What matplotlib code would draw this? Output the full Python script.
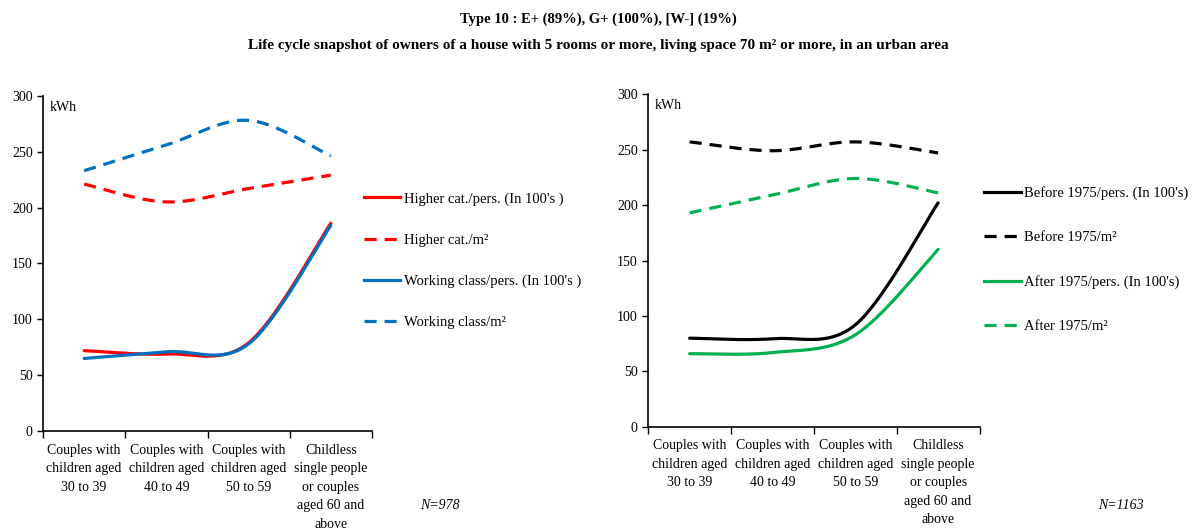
import numpy as np
import matplotlib
matplotlib.use("Agg")
import matplotlib.pyplot as plt
from matplotlib.lines import Line2D

plt.rcParams['font.family'] = ['Liberation Serif', 'DejaVu Serif']

categories = ["Couples with\nchildren aged\n30 to 39",
              "Couples with\nchildren aged\n40 to 49",
              "Couples with\nchildren aged\n50 to 59",
              "Childless\nsingle people\nor couples\naged 60 and\nabove"]

# Left panel
higher_pers = [72, 69, 79, 186]
higher_m2 = [221, 205, 217, 229]
working_pers = [65, 71, 78, 184]
working_m2 = [233, 256, 278, 246]

# Right panel
before_pers = [80, 79.5, 92, 202]
before_m2 = [257, 249, 257, 247]
after_pers = [66, 67, 83, 160]
after_m2 = [193, 209, 224, 211]

yticks = [0, 50, 100, 150, 200, 250, 300]

RED = "#FF0000"
BLUE = "#0070C0"
BLACK = "#000000"
GREEN = "#00B050"


def smooth(xs, ys, n=60):
    xs = np.asarray(xs, float)
    ys = np.asarray(ys, float)
    px = np.concatenate([[xs[0]], xs, [xs[-1]]])
    py = np.concatenate([[ys[0]], ys, [ys[-1]]])
    outx, outy = [], []
    t = np.linspace(0, 1, n)
    for i in range(1, len(xs)):
        p0 = np.array([px[i], py[i]])
        p3 = np.array([px[i + 1], py[i + 1]])
        c1 = p0 + (np.array([px[i + 1], py[i + 1]]) - np.array([px[i - 1], py[i - 1]])) / 6
        c2 = p3 - (np.array([px[i + 2], py[i + 2]]) - np.array([px[i], py[i]])) / 6
        bx = (1 - t) ** 3 * p0[0] + 3 * (1 - t) ** 2 * t * c1[0] + 3 * (1 - t) * t ** 2 * c2[0] + t ** 3 * p3[0]
        by = (1 - t) ** 3 * p0[1] + 3 * (1 - t) ** 2 * t * c1[1] + 3 * (1 - t) * t ** 2 * c2[1] + t ** 3 * p3[1]
        outx.extend(bx)
        outy.extend(by)
    return np.array(outx), np.array(outy)


fig = plt.figure(figsize=(11.96, 5.29), dpi=100)

fig.text(0.5, 0.964, "Type 10 : E+ (89%), G+ (100%), [W-] (19%)", ha="center", va="center",
         fontsize=10.5, fontweight="bold")
fig.text(0.5, 0.914, "Life cycle snapshot of owners of a house with 5 rooms or more, living space 70 m² or more, in an urban area",
         ha="center", va="center", fontsize=11, fontweight="bold")

LW = 2.3
DASH = (0, (3.8, 2.5))


def setup(ax):
    xs = np.arange(len(categories)) + 0.5
    ax.set_xlim(0, len(categories))
    ax.set_ylim(0, 300)
    ax.set_yticks(yticks)
    ax.set_xticks(np.arange(len(categories) + 1))
    ax.set_xticklabels([])
    ax.set_xticks(xs, minor=True)
    ax.set_xticklabels(categories, minor=True, fontsize=10, linespacing=1.55)
    ax.tick_params(axis="x", which="minor", length=0, pad=9)
    ax.tick_params(axis="x", which="major", length=5, direction="out", width=1)
    ax.tick_params(axis="y", length=4, direction="out", width=1, labelsize=10)
    for s in ["top", "right"]:
        ax.spines[s].set_visible(False)
    for s in ["left", "bottom"]:
        ax.spines[s].set_linewidth(1.2)
    ax.text(0.02, 0.985, "kWh", transform=ax.transAxes, ha="left", va="top", fontsize=10)
    return xs


def draw(ax, xs, ys, color, dashed):
    sx, sy = smooth(xs, ys)
    if dashed:
        ax.plot(sx, sy, color=color, lw=LW, linestyle=DASH, dash_capstyle="butt")
    else:
        ax.plot(sx, sy, color=color, lw=LW, solid_capstyle="round")


ax1 = fig.add_axes([0.036, 0.185, 0.275, 0.634])
xs = setup(ax1)
draw(ax1, xs, higher_m2, RED, True)
draw(ax1, xs, working_m2, BLUE, True)
draw(ax1, xs, higher_pers, RED, False)
draw(ax1, xs, working_pers, BLUE, False)

h1 = [Line2D([], [], color=RED, lw=LW),
      Line2D([], [], color=RED, lw=LW, linestyle=DASH),
      Line2D([], [], color=BLUE, lw=LW),
      Line2D([], [], color=BLUE, lw=LW, linestyle=DASH)]
l1 = ["Higher cat./pers. (In 100's )", "Higher cat./m²", "Working class/pers. (In 100's )", "Working class/m²"]
fig.legend(h1, l1, loc="upper left", bbox_to_anchor=(0.304, 0.637), frameon=False, fontsize=10.5,
           handlelength=2.5, handletextpad=0.25, labelspacing=1.92, borderpad=0, borderaxespad=0)

ax2 = fig.add_axes([0.542, 0.193, 0.277, 0.629])
xs = setup(ax2)
draw(ax2, xs, before_m2, BLACK, True)
draw(ax2, xs, after_m2, GREEN, True)
draw(ax2, xs, before_pers, BLACK, False)
draw(ax2, xs, after_pers, GREEN, False)

h2 = [Line2D([], [], color=BLACK, lw=LW),
      Line2D([], [], color=BLACK, lw=LW, linestyle=DASH),
      Line2D([], [], color=GREEN, lw=LW),
      Line2D([], [], color=GREEN, lw=LW, linestyle=DASH)]
l2 = ["Before 1975/pers. (In 100's)", "Before 1975/m²", "After 1975/pers. (In 100's)", "After 1975/m²"]
fig.legend(h2, l2, loc="upper left", bbox_to_anchor=(0.823, 0.648), frameon=False, fontsize=10.5,
           handlelength=2.5, handletextpad=0.25, labelspacing=2.12, borderpad=0, borderaxespad=0)

fig.text(0.368, 0.045, "N=978", ha="center", va="center", fontsize=10, style="italic")
fig.text(0.937, 0.045, "N=1163", ha="center", va="center", fontsize=10, style="italic")

fig.savefig("out.png", dpi=100)
